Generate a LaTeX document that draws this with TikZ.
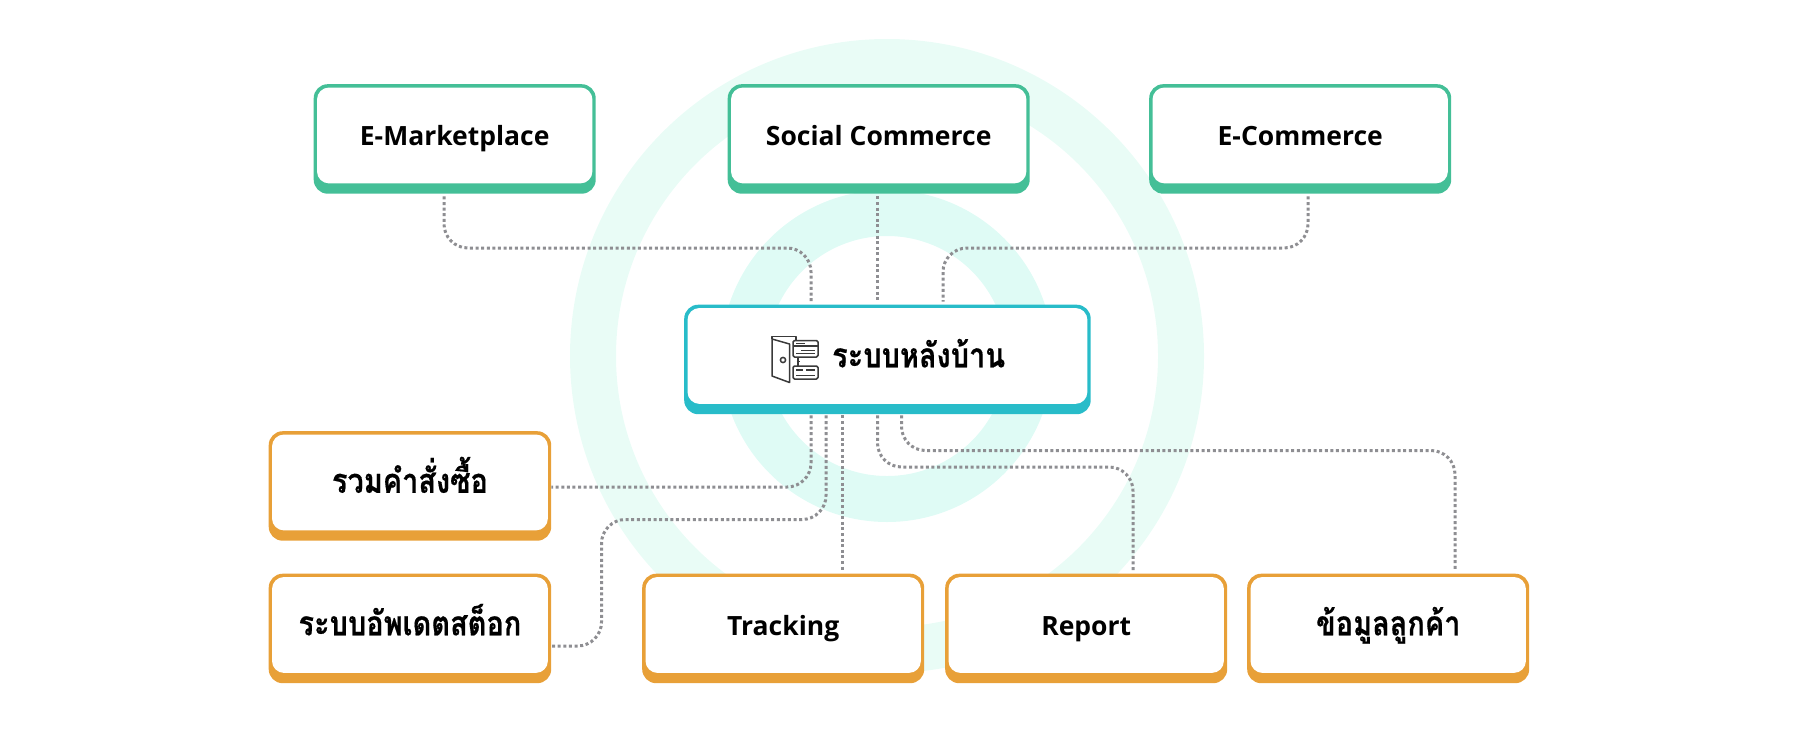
\documentclass[tikz,border=0pt]{standalone}
\usepackage{fontspec}
\setmainfont{Noto Sans}
\newfontfamily\latinfont{Open Sans}
\newfontfamily\thaifont[Script=Thai,FakeStretch=0.85,FakeBold=0.4]{Loma}
\usetikzlibrary{calc}
\definecolor{ringA}{HTML}{E9FCF6}
\definecolor{ringB}{HTML}{DFFBF5}
\definecolor{grn}{HTML}{44BF97}
\definecolor{tea}{HTML}{28BCC9}
\definecolor{org}{HTML}{E8A038}
\definecolor{dot}{HTML}{8E8E92}
\definecolor{ico}{HTML}{3A3A3A}
\tikzset{
  x=1pt,y=-1pt,
  boxouter/.style={rounded corners=14pt,inner sep=0pt,anchor=north west},
  conn/.style={draw=dot,line width=3pt,dash pattern=on 3pt off 2.6pt,rounded corners=24pt},
  fromtop/.style={conn,shorten <=2.5pt,shorten >=3pt},
  frombe/.style={conn,shorten <=1pt,shorten >=3pt},
  toside/.style={conn,shorten <=1pt},
  lbl/.style={font=\fontsize{26.5}{32}\selectfont\latinfont\bfseries,text=black,inner sep=0pt,anchor=base},
  thlbl/.style={font=\fontsize{34}{38}\selectfont\thaifont\bfseries,text=black,inner sep=0pt,anchor=base},
  icoline/.style={draw=ico,line width=1.5pt,line join=round},
}
% name, x1, y1, x2, y2, colour
\newcommand{\panelbox}[6]{%
  \node[boxouter,fill=#6,minimum width=#4pt-#2pt,minimum height=#5pt-#3pt] (#1) at (#2,#3) {};
  \fill[white,rounded corners=12pt] ($(#1.north west)+(3.5,3.5)$) rectangle ($(#1.south east)+(-3.5,-10.5)$);
  \coordinate (#1t) at ($(#1.north)+(0,61.8)$);
}
\begin{document}
\begin{tikzpicture}
\useasboundingbox (0,0) rectangle (1803,755);
\coordinate (ctr) at (887,356);
\fill[ringA,even odd rule] (ctr) circle[radius=317] (ctr) circle[radius=271];
\fill[ringB,even odd rule] (ctr) circle[radius=166] (ctr) circle[radius=120];

\panelbox{em}{313.5}{84}{595.5}{193.5}{grn}
\panelbox{sc}{727.5}{84}{1029.5}{193.5}{grn}
\panelbox{ec}{1149}{84}{1451}{193.5}{grn}
\panelbox{be}{684}{304.5}{1090.5}{414}{tea}
\panelbox{ro}{268.5}{431}{551}{540.5}{org}
\panelbox{st}{268.5}{573.5}{551}{683}{org}
\panelbox{tr}{642}{573.5}{924}{683}{org}
\panelbox{re}{945}{573.5}{1227}{683}{org}
\panelbox{cu}{1247}{573.5}{1529}{683}{org}

\node[lbl] (emL) at (emt) {E-Marketplace};
\node[lbl] (scL) at (sct) {Social Commerce};
\node[lbl] (ecL) at (ect) {E-Commerce};
\node[thlbl,anchor=base west] (beL) at (832,367.3) {ระบบหลังบ้าน};
\node[thlbl] (roL) at (rot) {รวมคำสั่งซื้อ};
\node[thlbl] (stL) at (stt) {ระบบอัพเดตสต็อก};
\node[lbl] (trL) at (trt) {Tracking};
\node[lbl] (reL) at (ret) {Report};
\node[thlbl] (cuL) at (cut) {ข้อมูลลูกค้า};

% guide coordinates
\coordinate (gEM) at (444,248);
\coordinate (gEMb) at (811,248);
\coordinate (gSC) at (877,0);
\coordinate (gEC) at (1308,248);
\coordinate (gECb) at (943,248);
\coordinate (gRO) at (811,487);
\coordinate (gST) at (826,519.5);
\coordinate (gSTb) at (601.5,519.5);
\coordinate (gSTc) at (601.5,646);
\coordinate (gTR) at (842.5,0);
\coordinate (gRE) at (877.5,467);
\coordinate (gREb) at (1133,467);
\coordinate (gCU) at (901.5,450.5);
\coordinate (gCUb) at (1455,450.5);

\draw[fromtop] (gEM |- em.south) -- (gEM) -- (gEMb) -- (gEMb |- be.north);
\draw[fromtop] (gSC |- sc.south) -- (gSC |- be.north);
\draw[fromtop] (gEC |- ec.south) -- (gEC) -- (gECb) -- (gECb |- be.north);
\draw[toside] (gRO |- be.south) -- (gRO) -- (gRO -| ro.east);
\draw[toside] (gST |- be.south) -- (gST) -- (gSTb) -- (gSTc) -- (gSTc -| st.east);
\draw[frombe] (gTR |- be.south) -- (gTR |- tr.north);
\draw[frombe] (gRE |- be.south) -- (gRE) -- (gREb) -- (gREb |- re.north);
\draw[frombe] (gCU |- be.south) -- (gCU) -- (gCUb) -- (gCUb |- cu.north);

% icon
\begin{scope}[shift={(771,336)}]
  \draw[icoline] (1,3) -- (1,0.7) -- (25,0.7) -- (25,5);
  \draw[icoline,fill=white] (1,3) -- (18.5,8) -- (18.5,46.5) -- (1,40) -- cycle;
  \draw[icoline] (12,24) circle[radius=2.6];
  \draw[icoline,fill=white,rounded corners=1.5pt] (22,4.5) rectangle (47,21);
  \draw[icoline] (22,9.8) -- (47,9.8);
  \draw[icoline,line width=1.3pt] (25,7.2) -- (34,7.2);
  \draw[icoline,line width=1.3pt] (30,14.5) -- (44,14.5);
  \draw[icoline,line width=1.3pt] (25,17.8) -- (44,17.8);
  \draw[icoline,fill=white,rounded corners=1.5pt] (22,30) rectangle (47,43);
  \draw[icoline,line width=1.3pt] (25,34) -- (32,34) (35,34) -- (44,34);
  \draw[icoline,line width=1.3pt] (25,39.5) -- (44,39.5);
  \draw[icoline] (27,21) -- (27,30);
  \draw[icoline] (25.5,25.5) -- (28.5,25.5);
\end{scope}
\end{tikzpicture}
\end{document}
